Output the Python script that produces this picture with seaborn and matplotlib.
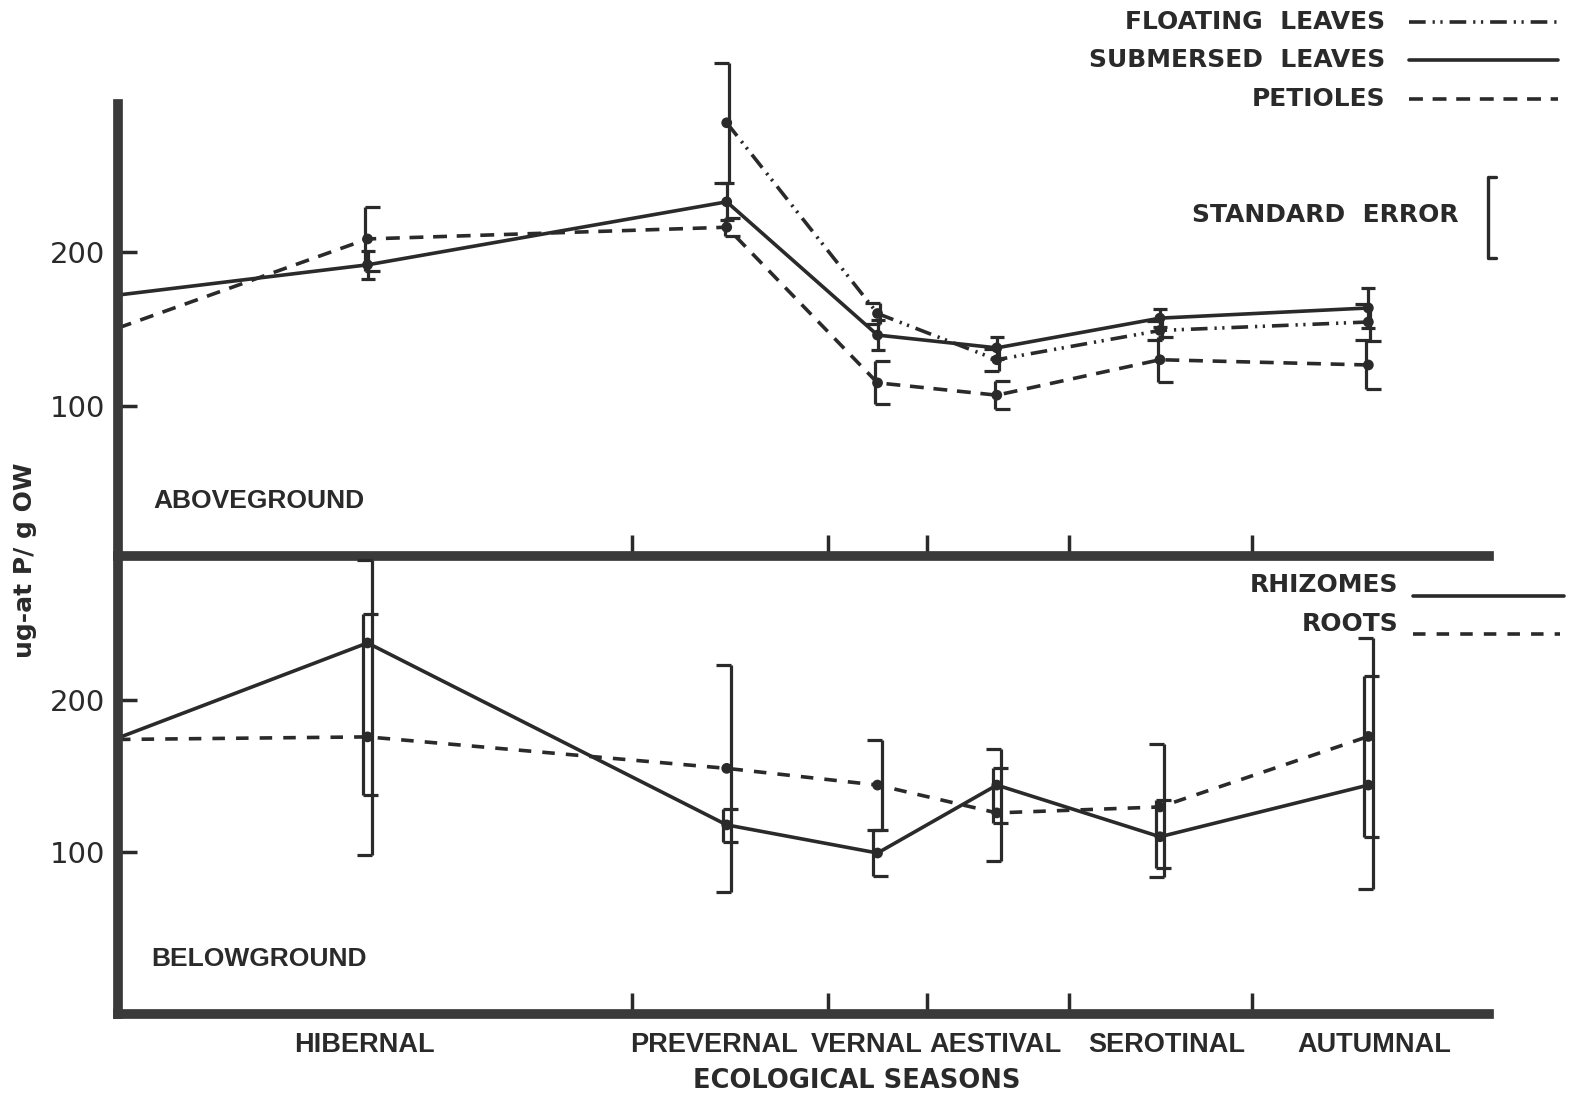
import numpy as np
import pandas as pd
import matplotlib
matplotlib.use("Agg")
import matplotlib.pyplot as plt
from matplotlib.lines import Line2D
from matplotlib.path import Path
from matplotlib.transforms import offset_copy
import seaborn as sns

# ---- sampling positions on the seasonal time axis (relative units 0-100) ----
season_names = ["HIBERNAL", "PREVERNAL", "VERNAL", "AESTIVAL", "SEROTINAL", "AUTUMNAL"]
season_pos = [18.2, 44.4, 55.4, 64.1, 76.0, 91.2]
label_pos = [18.0, 43.5, 54.6, 64.0, 76.5, 91.6]
season_bounds = [37.5, 51.8, 59.0, 69.4, 82.7]
x_start = 0.0

# ---- aboveground tissues (ug-at P / g DW) ----
float_pos = season_pos[1:]                 # floating leaves appear from prevernal on
float_mean = [283.8, 160.0, 130.0, 149.0, 154.5]
float_se = [39.0, 7.0, 7.0, 6.0, 12.0]

subm_start = 172.0
subm_mean = [191.6, 232.5, 146.0, 137.7, 157.0, 163.6]
subm_se = [9.0, 12.0, 10.0, 7.0, 6.0, 13.0]

pet_start = 150.6
pet_mean = [208.4, 216.0, 115.0, 107.0, 130.0, 126.6]
pet_se = [21.0, 6.0, 14.0, 9.0, 14.6, 15.6]

# ---- belowground tissues ----
rhiz_start = 175.0
rhiz_mean = [237.5, 117.8, 99.3, 144.0, 110.0, 144.0]
rhiz_lo = [137.5, 106.6, 84.0, 119.0, 89.5, 110.0]
rhiz_hi = [256.6, 128.0, 114.5, 155.0, 134.0, 215.8]

root_start = 174.0
root_mean = [175.7, 155.0, 144.0, 125.7, 129.6, 176.0]
root_lo = [98.0, 73.7, 114.5, 94.0, 83.5, 75.7]
root_hi = [292.0, 223.0, 173.7, 168.0, 171.0, 241.0]

y_ticks = [100, 200]

# ---- styling ----
INK = "#2a2a2a"
BAR = "#3a3a3a"
sns.set_theme(style="white")
plt.rcParams["font.family"] = ["Liberation Sans", "DejaVu Sans"]
plt.rcParams["lines.scale_dashes"] = False
WIDE = ["DejaVu Sans"]

LS_FLOAT = (0, (12, 5, 1.6, 4, 1.6, 5))
LS_SOLID = "-"
LS_PET = (0, (10, 7))
LS_ROOT = (0, (9, 8))
LW = 2.6

# bracket-shaped caps: "[" opens to the right, "]" opens to the left
CAP_OPEN_RIGHT = Path([(0, 0), (1, 0)])
CAP_OPEN_LEFT = Path([(0, 0), (-1, 0)])

W, H = 1577, 1095
fig = plt.figure(figsize=(W / 100, H / 100), dpi=100)
fig.patch.set_facecolor("white")

left = 118 / W
width = (1489 - 118) / W
mid = 1 - 556 / H
top = 1 - 104 / H
bot = 1 - 1014 / H
ax_top = fig.add_axes([left, mid, width, top - mid])
ax_bot = fig.add_axes([left, bot, width, mid - bot])


def series_frame(x0, y0, xs, ys):
    return pd.DataFrame({"x": [x0] + list(xs), "y": [y0] + list(ys)})


def draw_line(ax, df, ls):
    sns.lineplot(data=df, x="x", y="y", ax=ax, color=INK, lw=LW, linestyle=ls,
                 sort=False, errorbar=None, estimator=None)


def draw_points(ax, xs, ys, yerr, cap=None, dx=0.0):
    sns.scatterplot(x=xs, y=ys, ax=ax, color=INK, s=60, edgecolor="none",
                    clip_on=False, zorder=6)
    tr = offset_copy(ax.transData, fig=fig, x=dx, y=0, units="points")
    eb = ax.errorbar(xs, ys, yerr=yerr, fmt="none", ecolor=INK, elinewidth=2.3,
                     capsize=11 if cap is not None else 5, capthick=2.3,
                     transform=tr, clip_on=False, zorder=5)
    for cl in eb[1]:
        cl.set_clip_on(False)
        if cap is not None:
            cl.set_marker(cap)


# ---- aboveground panel ----
draw_line(ax_top, pd.DataFrame({"x": float_pos, "y": float_mean}), LS_FLOAT)
draw_line(ax_top, series_frame(x_start, subm_start, season_pos, subm_mean), LS_SOLID)
draw_line(ax_top, series_frame(x_start, pet_start, season_pos, pet_mean), LS_PET)
draw_points(ax_top, float_pos, float_mean, float_se, CAP_OPEN_LEFT, dx=1.5)
draw_points(ax_top, season_pos, subm_mean, subm_se)
draw_points(ax_top, season_pos, pet_mean, pet_se, CAP_OPEN_RIGHT, dx=-1.5)

# ---- belowground panel ----
draw_line(ax_bot, series_frame(x_start, rhiz_start, season_pos, rhiz_mean), LS_SOLID)
draw_line(ax_bot, series_frame(x_start, root_start, season_pos, root_mean), LS_ROOT)
rm, rl, rh = map(np.array, (rhiz_mean, rhiz_lo, rhiz_hi))
om, ol, oh = map(np.array, (root_mean, root_lo, root_hi))
draw_points(ax_bot, season_pos, rhiz_mean, [rm - rl, rh - rm], CAP_OPEN_RIGHT, dx=-3)
draw_points(ax_bot, season_pos, root_mean, [om - ol, oh - om], CAP_OPEN_LEFT, dx=3)

# ---- axes decoration ----
for ax, ylim in ((ax_top, (2.6, 296)), (ax_bot, (-6.6, 294.7))):
    ax.set_xlim(0, 100)
    ax.set_ylim(*ylim)
    ax.set_facecolor("none")
    ax.set_xlabel("")
    ax.set_ylabel("")
    for s in ("top", "right"):
        ax.spines[s].set_visible(False)
    for s in ("left", "bottom"):
        ax.spines[s].set_color(BAR)
        ax.spines[s].set_linewidth(7)
        ax.spines[s].set_capstyle("projecting")
    ax.set_yticks(y_ticks)
    ax.set_yticklabels([str(v) for v in y_ticks])
    ax.tick_params(axis="y", direction="in", length=14, width=2.5, color=INK,
                   labelsize=21, labelcolor=INK, pad=9, left=True)
    for lab in ax.get_yticklabels():
        lab.set_family(WIDE)
    ax.set_xticks(season_bounds, minor=True)
    ax.tick_params(axis="x", which="minor", direction="in", length=15, width=2.5,
                   color=INK, bottom=True)

ax_top.set_xticks([])
ax_bot.set_xticks(label_pos)
ax_bot.set_xticklabels(season_names)
ax_bot.tick_params(axis="x", which="major", length=0, pad=13, labelsize=19.5,
                   labelcolor=INK)
for lab in ax_bot.get_xticklabels():
    lab.set_weight("bold")

ax_bot.set_xlabel("ECOLOGICAL SEASONS", fontsize=18.5, fontweight="bold", color=INK,
                  family=WIDE)
ax_bot.xaxis.set_label_coords((857 - 118) / (1489 - 118), -0.118)

ax_top.text((153 - 118) / (1489 - 118), (556 - 501) / (556 - 104), "ABOVEGROUND",
            transform=ax_top.transAxes, ha="left", va="center", fontsize=19,
            fontweight="bold", color=INK)
ax_bot.text((151 - 118) / (1489 - 118), (1014 - 959) / (1014 - 556), "BELOWGROUND",
            transform=ax_bot.transAxes, ha="left", va="center", fontsize=19,
            fontweight="bold", color=INK)

fig.text(25 / W, 1 - 560 / H, "ug-at P/ g OW", rotation=90, ha="center", va="center",
         fontsize=18, fontweight="bold", color=INK, family=WIDE)


# ---- legend keys drawn in figure pixel space ----
def fx(px):
    return px / W


def fy(py):
    return 1 - py / H


def key(label, tx, ty, x0, x1, ly, ls, size=18):
    fig.text(fx(tx), fy(ty), label, ha="right", va="center", fontsize=size,
             fontweight="bold", color=INK, family=WIDE)
    fig.add_artist(Line2D([fx(x0), fx(x1)], [fy(ly), fy(ly)], color=INK, lw=LW,
                          linestyle=ls, transform=fig.transFigure))


key("FLOATING  LEAVES", 1385, 22, 1409, 1558, 22, LS_FLOAT)
key("SUBMERSED  LEAVES", 1385, 60, 1409, 1558, 60, LS_SOLID)
key("PETIOLES", 1385, 99, 1409, 1558, 99, LS_PET)
key("RHIZOMES", 1398, 585, 1413, 1564, 596, LS_SOLID)
key("ROOTS", 1398, 624, 1413, 1560, 634, LS_ROOT)

fig.text(fx(1459), fy(215), "STANDARD  ERROR", ha="right", va="center", fontsize=18,
         fontweight="bold", color=INK, family=WIDE)
fig.add_artist(Line2D([fx(1496), fx(1488), fx(1488), fx(1496)],
                      [fy(177), fy(177), fy(258), fy(258)], color=INK, lw=2.4,
                      transform=fig.transFigure))

fig.savefig("out.png", dpi=100, facecolor="white")
